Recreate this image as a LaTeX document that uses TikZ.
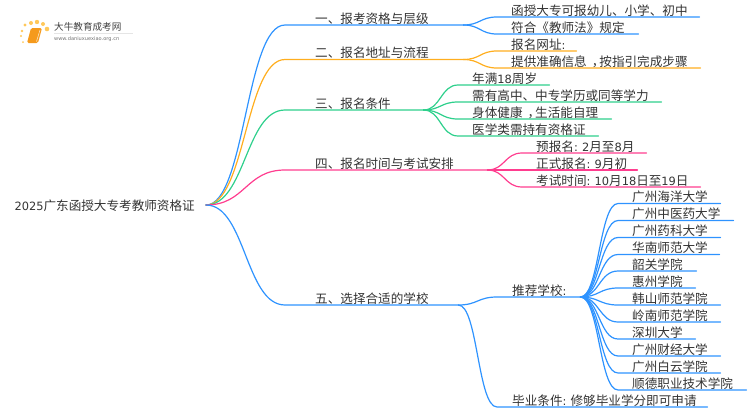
\documentclass[tikz,border=0pt]{standalone}
\usepackage{fontspec}
\setmainfont{Noto Sans CJK SC}
\newfontfamily\latf[Scale=0.905]{DejaVu Sans}
\usetikzlibrary{calc}
\definecolor{mapblue}{HTML}{2E93FF}
\definecolor{maporange}{HTML}{FFAE1F}
\definecolor{mapgreen}{HTML}{2ED08C}
\definecolor{mappink}{HTML}{FF3D8F}
\definecolor{maptext}{HTML}{333333}
\definecolor{logodot}{HTML}{FFC85A}
\definecolor{logobook}{HTML}{F59A1C}
\tikzset{
	mapnode/.style={anchor=south west,inner xsep=0pt,inner ysep=1.4pt,text depth=0pt,text height=10pt,align=left,text=maptext,font=\fontsize{12.6}{14}\selectfont},
	maplink/.style={line width=1.2pt,line cap=round},
}
\newcommand{\mapcolon}{{\latf :\ }}
\newcommand{\mapcomma}{\hspace{5pt}，\hspace{-5pt}}
% #1 name, #2 start x, #3 end x, #4 y of the line, #5 text indent, #6 text
\newcommand{\makenode}[6]{
	\node (#1) at (#2,#4) [mapnode,text width={(#3-#2)*1pt}] {\hspace*{#5pt}\makebox[0pt][l]{#6}};
}
% #1 colour, #2 from, #3 to
\newcommand{\makelink}[3]{
	\draw[maplink,#1] let \p1=(#2), \p2=(#3.south west), \n1={(\x1+\x2)/2} in
		(\p1) .. controls (\n1,\y1) and (\n1,\y2) .. (\p2) -- (#3.south east);
}
\begin{document}
\begin{tikzpicture}[x=1pt,y=-1pt]
	\useasboundingbox (0,0) rectangle (750,410);
	% logo
	\foreach \dx/\dy/\dr in {25/25/1.6,22/31/1.3,21/36/1.2,23/42/1,31/23/2,37/22/2.2,43/24/2,47/29/2.3}
		\fill[logodot] (\dx,\dy) circle (\dr);
	\fill[logobook,rounded corners=1.5pt] (31,28) -- (42,28) -- (38,43) -- (27,43) -- cycle;
	\draw[white!70!logobook,line width=.6pt] (40,30) -- (36.5,41.5);
	\draw[black!10,line width=.5pt] (54,33.5) -- (133,33.5);
	\node (logotext) at (54,27) [anchor=west,inner sep=0pt,text=black!75,font=\fontsize{9.6}{12}\selectfont] {大牛教育成考网};
	\node (logourl) at (54,38.7) [anchor=west,inner sep=0pt,text=black!55,font=\latf\fontsize{5.6}{6}\selectfont] {www.daniuxuexiao.org.cn};
	% root
	\node (root) at (195,205.5) [anchor=east,inner sep=0pt,text=maptext,font=\fontsize{12.6}{14}\selectfont] {{\latf 2025}广东函授大专考教师资格证};
	\coordinate (rootend) at (206,205);
	% first level
	\makenode{one}{285}{463}{25}{30}{一、报考资格与层级}
	\makenode{two}{285}{463}{59.5}{30}{二、报名地址与流程}
	\makenode{three}{285}{423}{110}{30}{三、报名条件}
	\makenode{four}{285}{487}{170}{30}{四、报名时间与考试安排}
	\makenode{five}{285}{458}{305}{30}{五、选择合适的学校}
	% second level
	\makenode{oneA}{497}{699}{17}{14}{函授大专可报幼儿、小学、初中}
	\makenode{oneB}{497}{638}{34}{14}{符合《教师法》规定}
	\makenode{twoA}{497}{576}{51}{14}{报名网址\mapcolon}
	\makenode{twoB}{497}{700}{68}{14}{提供准确信息\mapcomma 按指引完成步骤}
	\makenode{threeA}{458}{549}{85}{14}{年满{\latf 18}周岁}
	\makenode{threeB}{458}{661}{102}{14}{需有高中、中专学历或同等学力}
	\makenode{threeC}{458}{611}{119}{14}{身体健康\mapcomma 生活能自理}
	\makenode{threeD}{458}{598}{136}{14}{医学类需持有资格证}
	\makenode{fourA}{522}{646}{153}{14}{预报名\mapcolon{\latf 2}月至{\latf 8}月}
	\makenode{fourB}{522}{637}{170}{14}{正式报名\mapcolon{\latf 9}月初}
	\makenode{fourC}{522}{700}{187}{14}{考试时间\mapcolon{\latf 10}月{\latf 18}日至{\latf 19}日}
	\makenode{fiveA}{497}{580}{297}{15}{推荐学校\mapcolon}
	\makenode{fiveB}{497}{707}{407}{15}{毕业条件\mapcolon 修够毕业学分即可申请}
	% schools
	\makenode{schoolA}{618}{720}{203.5}{14}{广州海洋大学}
	\makenode{schoolB}{618}{733}{220.5}{14}{广州中医药大学}
	\makenode{schoolC}{618}{720}{237.5}{14}{广州药科大学}
	\makenode{schoolD}{618}{719}{254.5}{14}{华南师范大学}
	\makenode{schoolE}{618}{696}{271}{14}{韶关学院}
	\makenode{schoolF}{618}{695}{288}{14}{惠州学院}
	\makenode{schoolG}{618}{720}{305}{14}{韩山师范学院}
	\makenode{schoolH}{618}{720}{322}{14}{岭南师范学院}
	\makenode{schoolI}{618}{695}{339}{14}{深圳大学}
	\makenode{schoolJ}{618}{720}{356}{14}{广州财经大学}
	\makenode{schoolK}{618}{720}{373}{14}{广州白云学院}
	\makenode{schoolL}{618}{746}{390}{14}{顺德职业技术学院}
	% links
	\makelink{mapblue}{rootend}{one}
	\makelink{maporange}{rootend}{two}
	\makelink{mapgreen}{rootend}{three}
	\makelink{mappink}{rootend}{four}
	\makelink{mapblue}{rootend}{five}
	\foreach \kid in {oneA,oneB} {
		\makelink{mapblue}{one.south east}{\kid}
	}
	\foreach \kid in {twoA,twoB} {
		\makelink{maporange}{two.south east}{\kid}
	}
	\foreach \kid in {threeA,threeB,threeC,threeD} {
		\makelink{mapgreen}{three.south east}{\kid}
	}
	\foreach \kid in {fourA,fourB,fourC} {
		\makelink{mappink}{four.south east}{\kid}
	}
	\foreach \kid in {fiveA,fiveB} {
		\makelink{mapblue}{five.south east}{\kid}
	}
	\foreach \kid in {schoolA,schoolB,schoolC,schoolD,schoolE,schoolF,schoolG,schoolH,schoolI,schoolJ,schoolK,schoolL} {
		\makelink{mapblue}{fiveA.south east}{\kid}
	}
\end{tikzpicture}
\end{document}
